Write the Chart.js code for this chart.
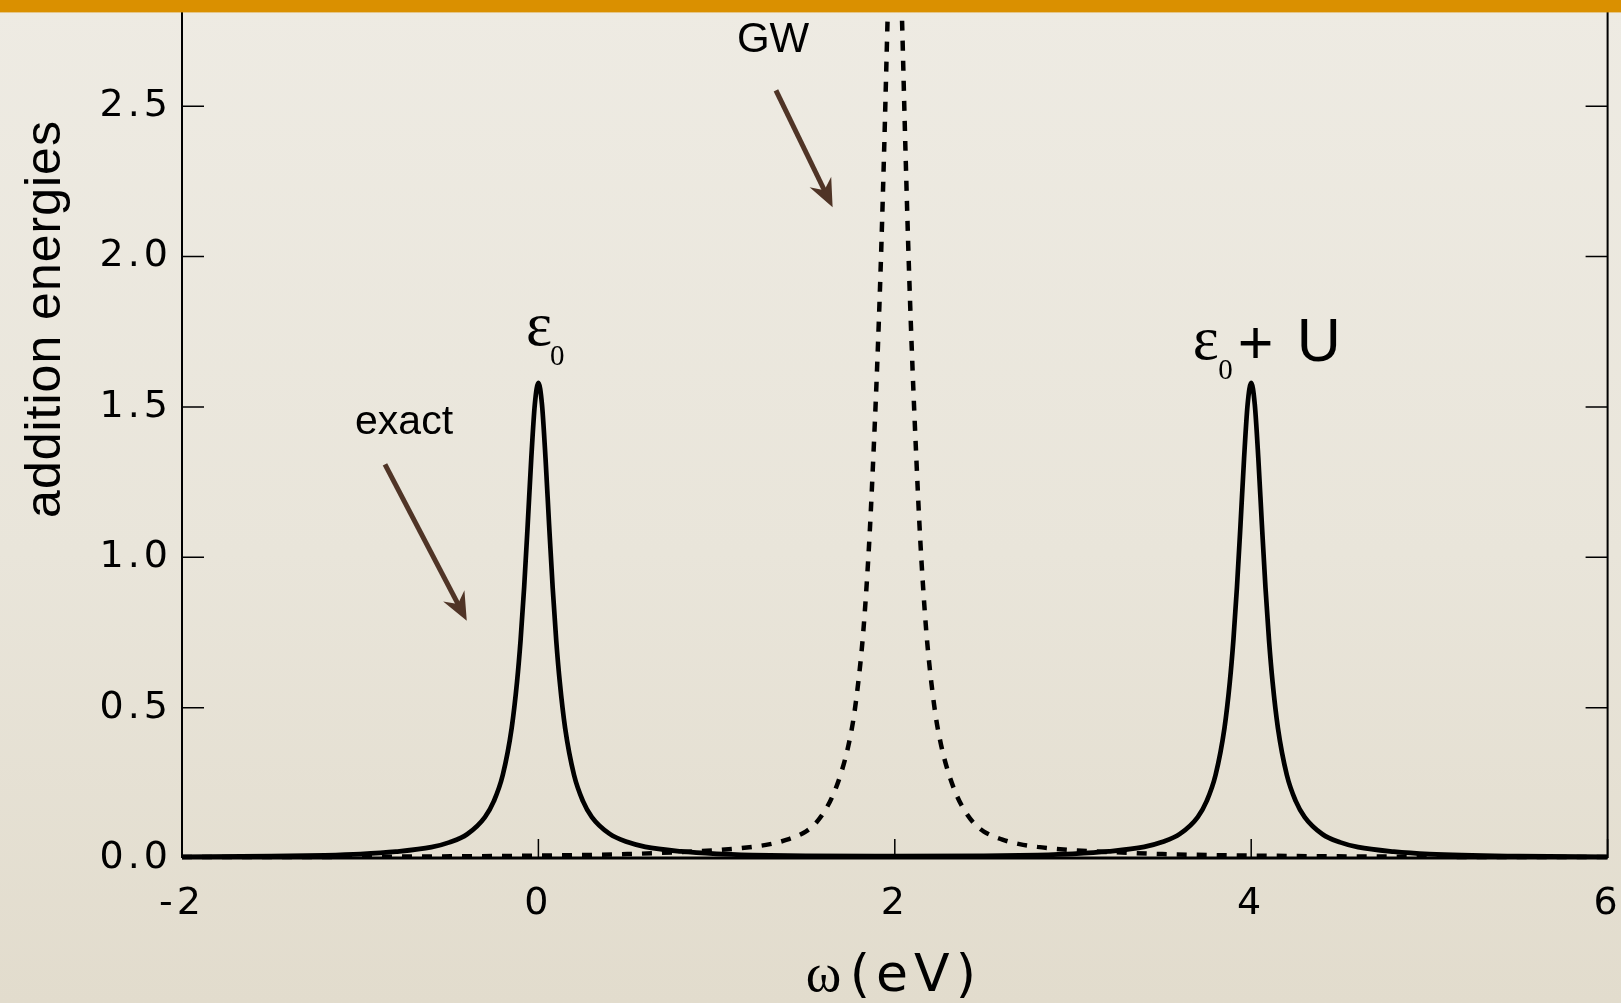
<!DOCTYPE html>
<html lang="en">
<head>
<meta charset="UTF-8">
<title>addition energies</title>
<script src="https://cdn.jsdelivr.net/npm/chart.js"></script>
<style>
  html, body { margin: 0; padding: 0; width: 100%; height: 100%; overflow: hidden; }
  body { background: linear-gradient(180deg, #eeebe3 0%, #e9e5da 55%, #e2dccd 100%); }
  #wrap { position: relative; width: 1621px; height: 1003px; }
</style>
</head>
<body>
<div id="wrap"><canvas id="chart"></canvas></div>
<script>
// exact spectral function: two peaks at eps0 = 0 and eps0 + U = 4
const omegaExact = [-2, -1.5, -1.2, -1.0, -0.8, -0.6, -0.5, -0.4, -0.3, -0.25, -0.2, -0.15, -0.12, -0.1, -0.08, -0.06, -0.04, -0.02,
  0, 0.02, 0.04, 0.06, 0.08, 0.1, 0.12, 0.15, 0.2, 0.25, 0.3, 0.4, 0.5, 0.6, 0.8, 1.0, 1.2, 1.5,
  2.0, 2.5, 2.8, 3.0, 3.2, 3.4, 3.5, 3.6, 3.7, 3.75, 3.8, 3.85, 3.88, 3.9, 3.92, 3.94, 3.96, 3.98,
  4.0, 4.02, 4.04, 4.06, 4.08, 4.1, 4.12, 4.15, 4.2, 4.25, 4.3, 4.4, 4.5, 4.6, 4.8, 5.0, 5.5, 6.0];
const exactValues = [0.004, 0.006, 0.009, 0.013, 0.021, 0.036, 0.052, 0.079, 0.136, 0.189, 0.276, 0.432, 0.585, 0.724, 0.9, 1.109, 1.329, 1.509,
  1.58, 1.509, 1.329, 1.109, 0.9, 0.724, 0.585, 0.432, 0.276, 0.189, 0.136, 0.08, 0.053, 0.037, 0.022, 0.014, 0.010, 0.007,
  0.006, 0.007, 0.010, 0.014, 0.022, 0.037, 0.053, 0.08, 0.136, 0.189, 0.276, 0.432, 0.585, 0.724, 0.9, 1.109, 1.329, 1.509,
  1.58, 1.509, 1.329, 1.109, 0.9, 0.724, 0.585, 0.432, 0.276, 0.189, 0.136, 0.079, 0.052, 0.036, 0.021, 0.013, 0.006, 0.004];

// GW: single peak at 2 (goes off the top of the plot)
const omegaGW = [-2, -1, 0, 0.5, 0.8, 1.0, 1.2, 1.3, 1.4, 1.5, 1.55, 1.6, 1.65, 1.7, 1.74, 1.77, 1.8, 1.82, 1.84, 1.86, 1.88, 1.9, 1.92, 1.94, 1.96, 1.98,
  2.0, 2.02, 2.04, 2.06, 2.08, 2.1, 2.12, 2.14, 2.16, 2.18, 2.2, 2.23, 2.26, 2.3, 2.35, 2.4, 2.45, 2.5, 2.6, 2.7, 2.8, 3.0, 3.2, 3.5, 4.0, 5.0, 6.0];
const gwValues = [0.003, 0.004, 0.008, 0.013, 0.02, 0.026, 0.037, 0.046, 0.062, 0.088, 0.112, 0.15, 0.205, 0.285, 0.375, 0.47, 0.61, 0.73, 0.89, 1.09, 1.34, 1.62, 1.95, 2.35, 2.8, 3.2,
  3.33, 3.2, 2.8, 2.35, 1.95, 1.62, 1.34, 1.09, 0.89, 0.73, 0.61, 0.47, 0.375, 0.285, 0.205, 0.15, 0.112, 0.088, 0.062, 0.046, 0.037, 0.026, 0.02, 0.013, 0.008, 0.004, 0.003];

const xTicks = [-2, 0, 2, 4, 6];
const yTicks = [0, 0.5, 1.0, 1.5, 2.0, 2.5];

const xTitle = ['\u03c9', '(eV)'];
const yTitle = 'addition energies';

function arrow(ctx, x1, y1, x2, y2) {
  const a = Math.atan2(y2 - y1, x2 - x1);
  const len = 28, half = 12;
  const bx = x2 - len * Math.cos(a), by = y2 - len * Math.sin(a);
  ctx.beginPath();
  ctx.moveTo(x1, y1);
  ctx.lineTo(x2 - 12 * Math.cos(a), y2 - 12 * Math.sin(a));
  ctx.stroke();
  ctx.beginPath();
  ctx.moveTo(x2, y2);
  ctx.lineTo(bx + half * Math.sin(a), by - half * Math.cos(a));
  ctx.lineTo(x2 - 19 * Math.cos(a), y2 - 19 * Math.sin(a));
  ctx.lineTo(bx - half * Math.sin(a), by + half * Math.cos(a));
  ctx.closePath();
  ctx.fill();
}

const decorations = {
  id: 'decorations',
  beforeDraw(chart) { chart.ctx.letterSpacing = '4px'; },
  beforeDatasetsDraw(chart) { chart.ctx.letterSpacing = '0px'; },
  afterDatasetsDraw(chart) {
    const { ctx, chartArea: a, scales: { x, y } } = chart;
    ctx.save();
    ctx.strokeStyle = '#000';
    // box
    ctx.lineWidth = 2;
    ctx.beginPath();
    ctx.moveTo(a.left, 0); ctx.lineTo(a.left, a.bottom);
    ctx.moveTo(a.right, 0); ctx.lineTo(a.right, a.bottom);
    ctx.stroke();
    ctx.lineWidth = 3;
    ctx.beginPath();
    ctx.moveTo(a.left, a.bottom); ctx.lineTo(a.right, a.bottom);
    ctx.stroke();
    // ticks pointing inward
    ctx.lineWidth = 1.5;
    ctx.beginPath();
    yTicks.forEach(v => {
      const py = y.getPixelForValue(v);
      ctx.moveTo(a.left, py); ctx.lineTo(a.left + 22, py);
      ctx.moveTo(a.right, py); ctx.lineTo(a.right - 22, py);
    });
    xTicks.forEach(v => {
      const px = x.getPixelForValue(v);
      ctx.moveTo(px, a.bottom); ctx.lineTo(px, a.bottom - 19);
    });
    ctx.stroke();
    ctx.restore();
  },
  afterDraw(chart) {
    const { ctx, chartArea: a, scales: { x, y } } = chart;
    const X = v => x.getPixelForValue(v), Y = v => y.getPixelForValue(v);
    ctx.save();
    ctx.fillStyle = '#000';
    ctx.textBaseline = 'alphabetic';

    // labels
    ctx.font = '42px "Liberation Sans", Arial, sans-serif';
    ctx.textAlign = 'center';
    ctx.fillText('GW', X(1.317), Y(2.68));
    ctx.font = '41px "Liberation Sans", Arial, sans-serif';
    ctx.textAlign = 'left';
    ctx.fillText('exact', X(-1.029), Y(1.409));

    ctx.font = '62px "Liberation Serif", "DejaVu Serif", serif';
    ctx.fillText('\u03b5', X(-0.07), Y(1.707));
    ctx.fillText('\u03b5', X(3.672), Y(1.659));
    ctx.font = '29px "Liberation Serif", "DejaVu Serif", serif';
    ctx.fillText('0', X(0.065), Y(1.64));
    ctx.fillText('0', X(3.815), Y(1.593));
    ctx.font = '61px "Liberation Sans", Arial, sans-serif';
    ctx.fillText('+', X(3.925), Y(1.645));
    ctx.fillText('U', X(4.255), Y(1.653));

    // arrows
    ctx.strokeStyle = '#4f3426';
    ctx.fillStyle = '#4f3426';
    ctx.lineWidth = 5;
    arrow(ctx, X(1.333), Y(2.553), X(1.651), Y(2.164));
    arrow(ctx, X(-0.861), Y(1.309), X(-0.402), Y(0.789));

    // axis titles
    ctx.fillStyle = '#000';
    const cx = (a.left + a.right) / 2;
    ctx.font = '54px "Liberation Serif", "DejaVu Serif", serif';
    ctx.textAlign = 'left';
    ctx.fillText(xTitle[0], cx - 89, 991);
    ctx.font = '52px "DejaVu Sans", sans-serif';
    ctx.letterSpacing = '6px';
    ctx.fillText(xTitle[1], cx - 45, 991);
    ctx.letterSpacing = '1px';
    ctx.font = '50px "Liberation Sans", Arial, sans-serif';
    ctx.translate(60, 319);
    ctx.rotate(-Math.PI / 2);
    ctx.textAlign = 'center';
    ctx.fillText(yTitle, 0, 0);
    ctx.restore();

    // orange band across the top
    ctx.save();
    ctx.fillStyle = '#da9000';
    ctx.fillRect(0, 0, chart.width, 12.4);
    ctx.restore();
  }
};

const ctx = document.getElementById('chart').getContext('2d');
new Chart(ctx, {
  type: 'line',
  data: {
    datasets: [
      {
        label: 'exact',
        data: omegaExact.map((w, i) => ({ x: w, y: exactValues[i] })),
        borderColor: '#000',
        borderWidth: 4.7,
        pointRadius: 0,
        fill: false,
        cubicInterpolationMode: 'monotone',
        borderJoinStyle: 'round'
      },
      {
        label: 'GW',
        data: omegaGW.map((w, i) => ({ x: w, y: gwValues[i] })),
        borderColor: '#000',
        borderWidth: 4.5,
        borderDash: [10, 10],
        pointRadius: 0,
        fill: false,
        clip: false,
        cubicInterpolationMode: 'monotone'
      }
    ]
  },
  options: {
    responsive: true,
    maintainAspectRatio: false,
    animation: false,
    layout: { padding: { top: 0, right: 13.4, left: 0, bottom: 0 } },
    plugins: { legend: { display: false }, tooltip: { enabled: false } },
    scales: {
      x: {
        type: 'linear',
        min: -2,
        max: 6,
        afterBuildTicks: s => { s.ticks = xTicks.map(v => ({ value: v })); },
        afterFit: s => { s.height = 145; s.paddingLeft = 0; s.paddingRight = 0; },
        grid: { display: false, drawTicks: false },
        border: { display: false },
        ticks: {
          padding: 23,
          color: '#000',
          font: { family: '"DejaVu Sans", sans-serif', size: 38 },
          callback: v => String(v)
        }
      },
      y: {
        min: 0,
        max: 856 / 300,
        afterBuildTicks: s => { s.ticks = yTicks.map(v => ({ value: v })); },
        afterFit: s => { s.width = 182; s.paddingTop = 0; s.paddingBottom = 0; },
        grid: { display: false, drawTicks: false },
        border: { display: false },
        ticks: {
          padding: 10,
          color: '#000',
          font: { family: '"DejaVu Sans", sans-serif', size: 38 },
          callback: v => v.toFixed(1)
        }
      }
    }
  },
  plugins: [decorations]
});
</script>
</body>
</html>
